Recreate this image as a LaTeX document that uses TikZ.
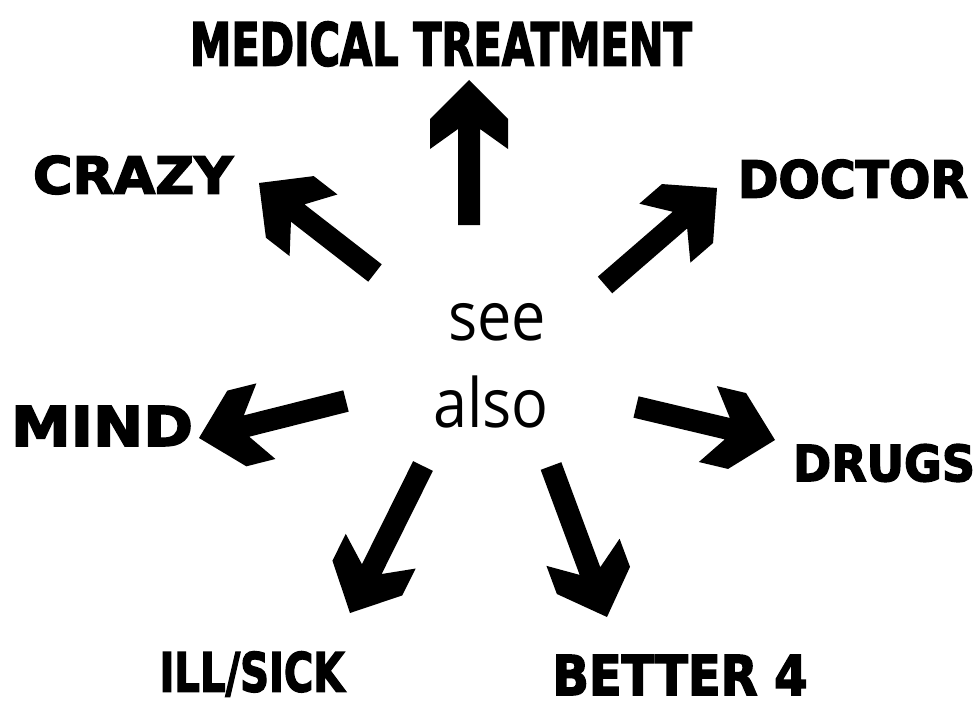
\documentclass[tikz,border=0pt]{standalone}
\usepackage{fontspec}
\usepackage{graphicx}
\setmainfont{DejaVu Sans}
\newfontfamily\heavy{DejaVu Sans}[BoldFeatures={FakeBold=3}]
\newfontfamily\seefont{Open Sans}
\usetikzlibrary{calc}
% fat chevron arrow from tail #1 to tip #2
\newcommand\fatarrow[2]{%
  \fill[arrowfill] (#2)
    -- ($(#2)!39pt!(#1)!39pt!90:(#1)$)
    -- ($(#2)!69pt!(#1)!39pt!90:(#1)$)
    -- ($(#2)!49pt!(#1)!11pt!90:(#1)$)
    -- ($(#1)!11pt!-90:(#2)$)
    -- ($(#1)!11pt!90:(#2)$)
    -- ($(#2)!49pt!(#1)!11pt!-90:(#1)$)
    -- ($(#2)!69pt!(#1)!39pt!-90:(#1)$)
    -- ($(#2)!39pt!(#1)!39pt!-90:(#1)$)
    -- cycle;}
\newcommand\lab[3]{\resizebox{#1pt}{#2pt}{\heavy\bfseries #3}}
\begin{document}
\begin{tikzpicture}[x=1pt,y=-1pt,
  arrowfill/.style={fill=black},
  lbl/.style={inner sep=0pt,anchor=center},
  seetext/.style={inner sep=0pt,anchor=base}]
\fill[white] (0,0) rectangle (980,709);
\useasboundingbox (0,0) rectangle (980,709);
% labels
\node[lbl] (med)    at (441,44)  {\lab{502}{44}{MEDICAL TREATMENT}};
\node[lbl] (crazy)  at (133,175) {\lab{200}{38}{CRAZY}};
\node[lbl] (doctor) at (853,179) {\lab{230}{38}{DOCTOR}};
\node[lbl] (mind)   at (102,426) {\lab{182}{40}{MIND}};
\node[lbl] (drugs)  at (884,463) {\lab{182}{37}{DRUGS}};
\node[lbl] (ill)    at (252,674) {\lab{185}{40}{ILL/SICK}};
\node[lbl] (better) at (680,675) {\lab{255}{40}{BETTER 4}};
% centre text
\node[seetext] (see)  at (497,340) {\scalebox{0.9}[1]{\seefont\fontsize{68}{80}\selectfont see}};
\node[seetext] (also) at (491,427) {\scalebox{0.9}[1]{\seefont\fontsize{68}{80}\selectfont also}};
% arrow ends
\coordinate (upT) at (469,225);   \coordinate (upH) at (469,80);
\coordinate (crT) at (375,273);   \coordinate (crH) at (259,183);
\coordinate (doT) at (605,285);   \coordinate (doH) at (717,188);
\coordinate (miT) at (346,401);   \coordinate (miH) at (199,438);
\coordinate (drT) at (636,407);   \coordinate (drH) at (775,440);
\coordinate (ilT) at (423,466);   \coordinate (ilH) at (350,613);
\coordinate (beT) at (551,466);   \coordinate (beH) at (607,617);
\fatarrow{upT}{upH}
\fatarrow{crT}{crH}
\fatarrow{doT}{doH}
\fatarrow{miT}{miH}
\fatarrow{drT}{drH}
\fatarrow{ilT}{ilH}
\fatarrow{beT}{beH}
\end{tikzpicture}
\end{document}
